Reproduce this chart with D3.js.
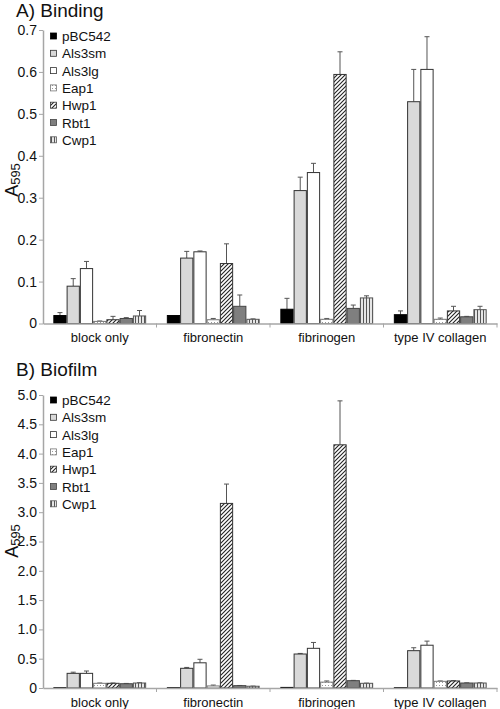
<!DOCTYPE html>
<html><head><meta charset="utf-8">
<script src="https://cdn.jsdelivr.net/npm/d3@7"></script>
<style>body{margin:0;background:#fff;} svg{display:block;font-family:"Liberation Sans",Arial,sans-serif;}</style>
</head><body>
<svg id="c" width="500" height="709"></svg>
<script>
const categories = ["block only", "fibronectin", "fibrinogen", "type IV collagen"];
const seriesNames = ["pBC542", "Als3sm", "Als3lg", "Eap1", "Hwp1", "Rbt1", "Cwp1"];
const bindingTicks = ["0", "0.1", "0.2", "0.3", "0.4", "0.5", "0.6", "0.7"];
const biofilmTicks = ["0", "0.5", "1.0", "1.5", "2.0", "2.5", "3.0", "3.5", "4.0", "4.5", "5.0"];

// Binding (A) means per series, in category order
const bindPBC542 = [0.019, 0.019, 0.034, 0.021];
const bindAls3sm = [0.089, 0.156, 0.317, 0.529];
const bindAls3lg = [0.131, 0.171, 0.360, 0.606];
const bindEap1   = [0.005, 0.009, 0.010, 0.010];
const bindHwp1   = [0.009, 0.143, 0.594, 0.030];
const bindRbt1   = [0.012, 0.041, 0.036, 0.016];
const bindCwp1   = [0.018, 0.010, 0.061, 0.033];
// Binding error (upper bar)
const bindErrPBC542 = [0.007, 0.000, 0.026, 0.009];
const bindErrAls3sm = [0.018, 0.016, 0.032, 0.077];
const bindErrAls3lg = [0.017, 0.002, 0.022, 0.078];
const bindErrEap1   = [0.001, 0.003, 0.002, 0.003];
const bindErrHwp1   = [0.008, 0.047, 0.054, 0.011];
const bindErrRbt1   = [0.002, 0.027, 0.008, 0.001];
const bindErrCwp1   = [0.013, 0.001, 0.005, 0.008];

// Biofilm (B) means
const bioPBC542 = [0.005, 0.005, 0.010, 0.005];
const bioAls3sm = [0.250, 0.336, 0.580, 0.637];
const bioAls3lg = [0.250, 0.430, 0.677, 0.730];
const bioEap1   = [0.080, 0.035, 0.100, 0.114];
const bioHwp1   = [0.080, 3.150, 4.150, 0.120];
const bioRbt1   = [0.073, 0.040, 0.125, 0.085];
const bioCwp1   = [0.085, 0.030, 0.080, 0.085];
// Biofilm error
const bioErrPBC542 = [0.000, 0.000, 0.000, 0.000];
const bioErrAls3sm = [0.020, 0.015, 0.010, 0.050];
const bioErrAls3lg = [0.040, 0.060, 0.100, 0.070];
const bioErrEap1   = [0.005, 0.015, 0.020, 0.006];
const bioErrHwp1   = [0.005, 0.330, 0.750, 0.005];
const bioErrRbt1   = [0.005, 0.003, 0.005, 0.003];
const bioErrCwp1   = [0.005, 0.002, 0.003, 0.003];

const bindMeans = [bindPBC542, bindAls3sm, bindAls3lg, bindEap1, bindHwp1, bindRbt1, bindCwp1];
const bindErrs = [bindErrPBC542, bindErrAls3sm, bindErrAls3lg, bindErrEap1, bindErrHwp1, bindErrRbt1, bindErrCwp1];
const bioMeans = [bioPBC542, bioAls3sm, bioAls3lg, bioEap1, bioHwp1, bioRbt1, bioCwp1];
const bioErrs = [bioErrPBC542, bioErrAls3sm, bioErrAls3lg, bioErrEap1, bioErrHwp1, bioErrRbt1, bioErrCwp1];

const svg = d3.select("#c");
const defs = svg.append("defs");
// patterns
const pHatch = defs.append("pattern").attr("id","hatch").attr("patternUnits","userSpaceOnUse").attr("width",4).attr("height",4);
pHatch.append("rect").attr("width",4).attr("height",4).attr("fill","#fff");
pHatch.append("path").attr("d","M-1,1 l2,-2 M0,4 l4,-4 M3,5 l2,-2").attr("stroke","#222").attr("stroke-width",1.1);
const pVert = defs.append("pattern").attr("id","vert").attr("patternUnits","userSpaceOnUse").attr("width",3).attr("height",3);
pVert.append("rect").attr("width",3).attr("height",3).attr("fill","#e6e6e6");
pVert.append("rect").attr("x",0).attr("width",1).attr("height",3).attr("fill","#555");
const pDots = defs.append("pattern").attr("id","dots").attr("patternUnits","userSpaceOnUse").attr("width",3).attr("height",3);
pDots.append("rect").attr("width",3).attr("height",3).attr("fill","#fff");
pDots.append("rect").attr("x",1).attr("y",1).attr("width",1).attr("height",1).attr("fill","#999");

const fills = ["#000", "#d9d9d9", "#fff", "url(#dots)", "url(#hatch)", "#7f7f7f", "url(#vert)"];
const strokes = ["#000", "#333", "#333", "#777", "#333", "#444", "#555"];
const axisCol = "#a6a6a6";

function panel(cfg) {
  const x = d3.scaleBand().domain(categories).range([43, 497]).padding(0);
  const xs = d3.scaleBand().domain(seriesNames).range([0, x.bandwidth()]).paddingInner(0).paddingOuter(0.78);
  const y = d3.scaleLinear().domain([0, cfg.max]).range([cfg.y0, cfg.y1]);
  const g = svg.append("g");

  // title
  g.append("text").attr("x", 16).attr("y", cfg.titleY).attr("font-size", 19).attr("fill", "#111").text(cfg.title);

  // y axis
  const yAxis = d3.axisLeft(y).tickValues(cfg.ticks.map(Number)).tickFormat((d, i) => cfg.ticks[i]).tickSize(4).tickSizeOuter(0);
  const ya = g.append("g").attr("transform", "translate(43,0)").call(yAxis);
  ya.select(".domain").attr("stroke", axisCol).attr("stroke-width", 1.5);
  ya.selectAll(".tick line").attr("stroke", axisCol);
  ya.selectAll(".tick text").attr("font-size", 14).attr("fill", "#111").attr("x", -6).attr("font-family", "Liberation Sans, Arial, sans-serif");

  // y label
  const yl = g.append("text").attr("transform", `translate(18,${cfg.labelY}) rotate(-90)`).attr("text-anchor", "middle").attr("fill", "#111");
  yl.append("tspan").attr("font-size", 18).text("A");
  yl.append("tspan").attr("font-size", 13).attr("dy", 2).text("595");

  // bars
  seriesNames.forEach((s, si) => {
    const gs = g.append("g");
    categories.forEach((c, ci) => {
      const v = cfg.means[si][ci];
      const e = cfg.errs[si][ci];
      const bx = x(c) + xs(s);
      const bw = xs.bandwidth();
      if (e > 0) {
        const cx = bx + bw / 2;
        gs.append("line").attr("x1", cx).attr("x2", cx).attr("y1", y(v)).attr("y2", y(v + e)).attr("stroke", "#555").attr("stroke-width", 1);
        gs.append("line").attr("x1", cx - 2.5).attr("x2", cx + 2.5).attr("y1", y(v + e)).attr("y2", y(v + e)).attr("stroke", "#555").attr("stroke-width", 1);
      }
      gs.append("rect").attr("x", bx + 0.5).attr("y", y(v)).attr("width", bw - 1).attr("height", Math.max(0, y(0) - y(v)))
        .attr("fill", fills[si]).attr("stroke", strokes[si]).attr("stroke-width", 1);
    });
  });

  // x axis
  const xAxis = d3.axisBottom(x).tickSize(0).tickSizeOuter(0);
  const xa = g.append("g").attr("transform", `translate(0,${cfg.y0})`).call(xAxis);
  xa.select(".domain").attr("stroke", axisCol).attr("stroke-width", 1.5);
  xa.selectAll(".tick text").attr("font-size", 13).attr("fill", "#111").attr("dy", "1.2em").attr("font-family", "Liberation Sans, Arial, sans-serif");
  categories.slice(1).forEach(c => {
    xa.append("line").attr("x1", x(c)).attr("x2", x(c)).attr("y1", 0).attr("y2", 4).attr("stroke", axisCol);
  });
  xa.append("line").attr("x1", 497).attr("x2", 497).attr("y1", 0).attr("y2", 4).attr("stroke", axisCol);

  // legend
  const lg = g.append("g");
  seriesNames.forEach((s, si) => {
    const ly = cfg.legY + si * 17.3;
    lg.append("rect").attr("x", 50.5).attr("y", ly - 3.5).attr("width", 6).attr("height", 6)
      .attr("fill", fills[si]).attr("stroke", strokes[si]).attr("stroke-width", 0.8);
    lg.append("text").attr("x", 62).attr("y", ly + 4.5).attr("font-size", 13.5).attr("fill", "#111").text(s);
  });
}

panel({title: "A) Binding", titleY: 17, max: 0.7, y0: 323.5, y1: 30, ticks: bindingTicks, labelY: 180, legY: 36.5, means: bindMeans, errs: bindErrs});
panel({title: "B) Biofilm", titleY: 376, max: 5.0, y0: 688, y1: 395, ticks: biofilmTicks, labelY: 541, legY: 400.5, means: bioMeans, errs: bioErrs});
</script>
</body></html>
